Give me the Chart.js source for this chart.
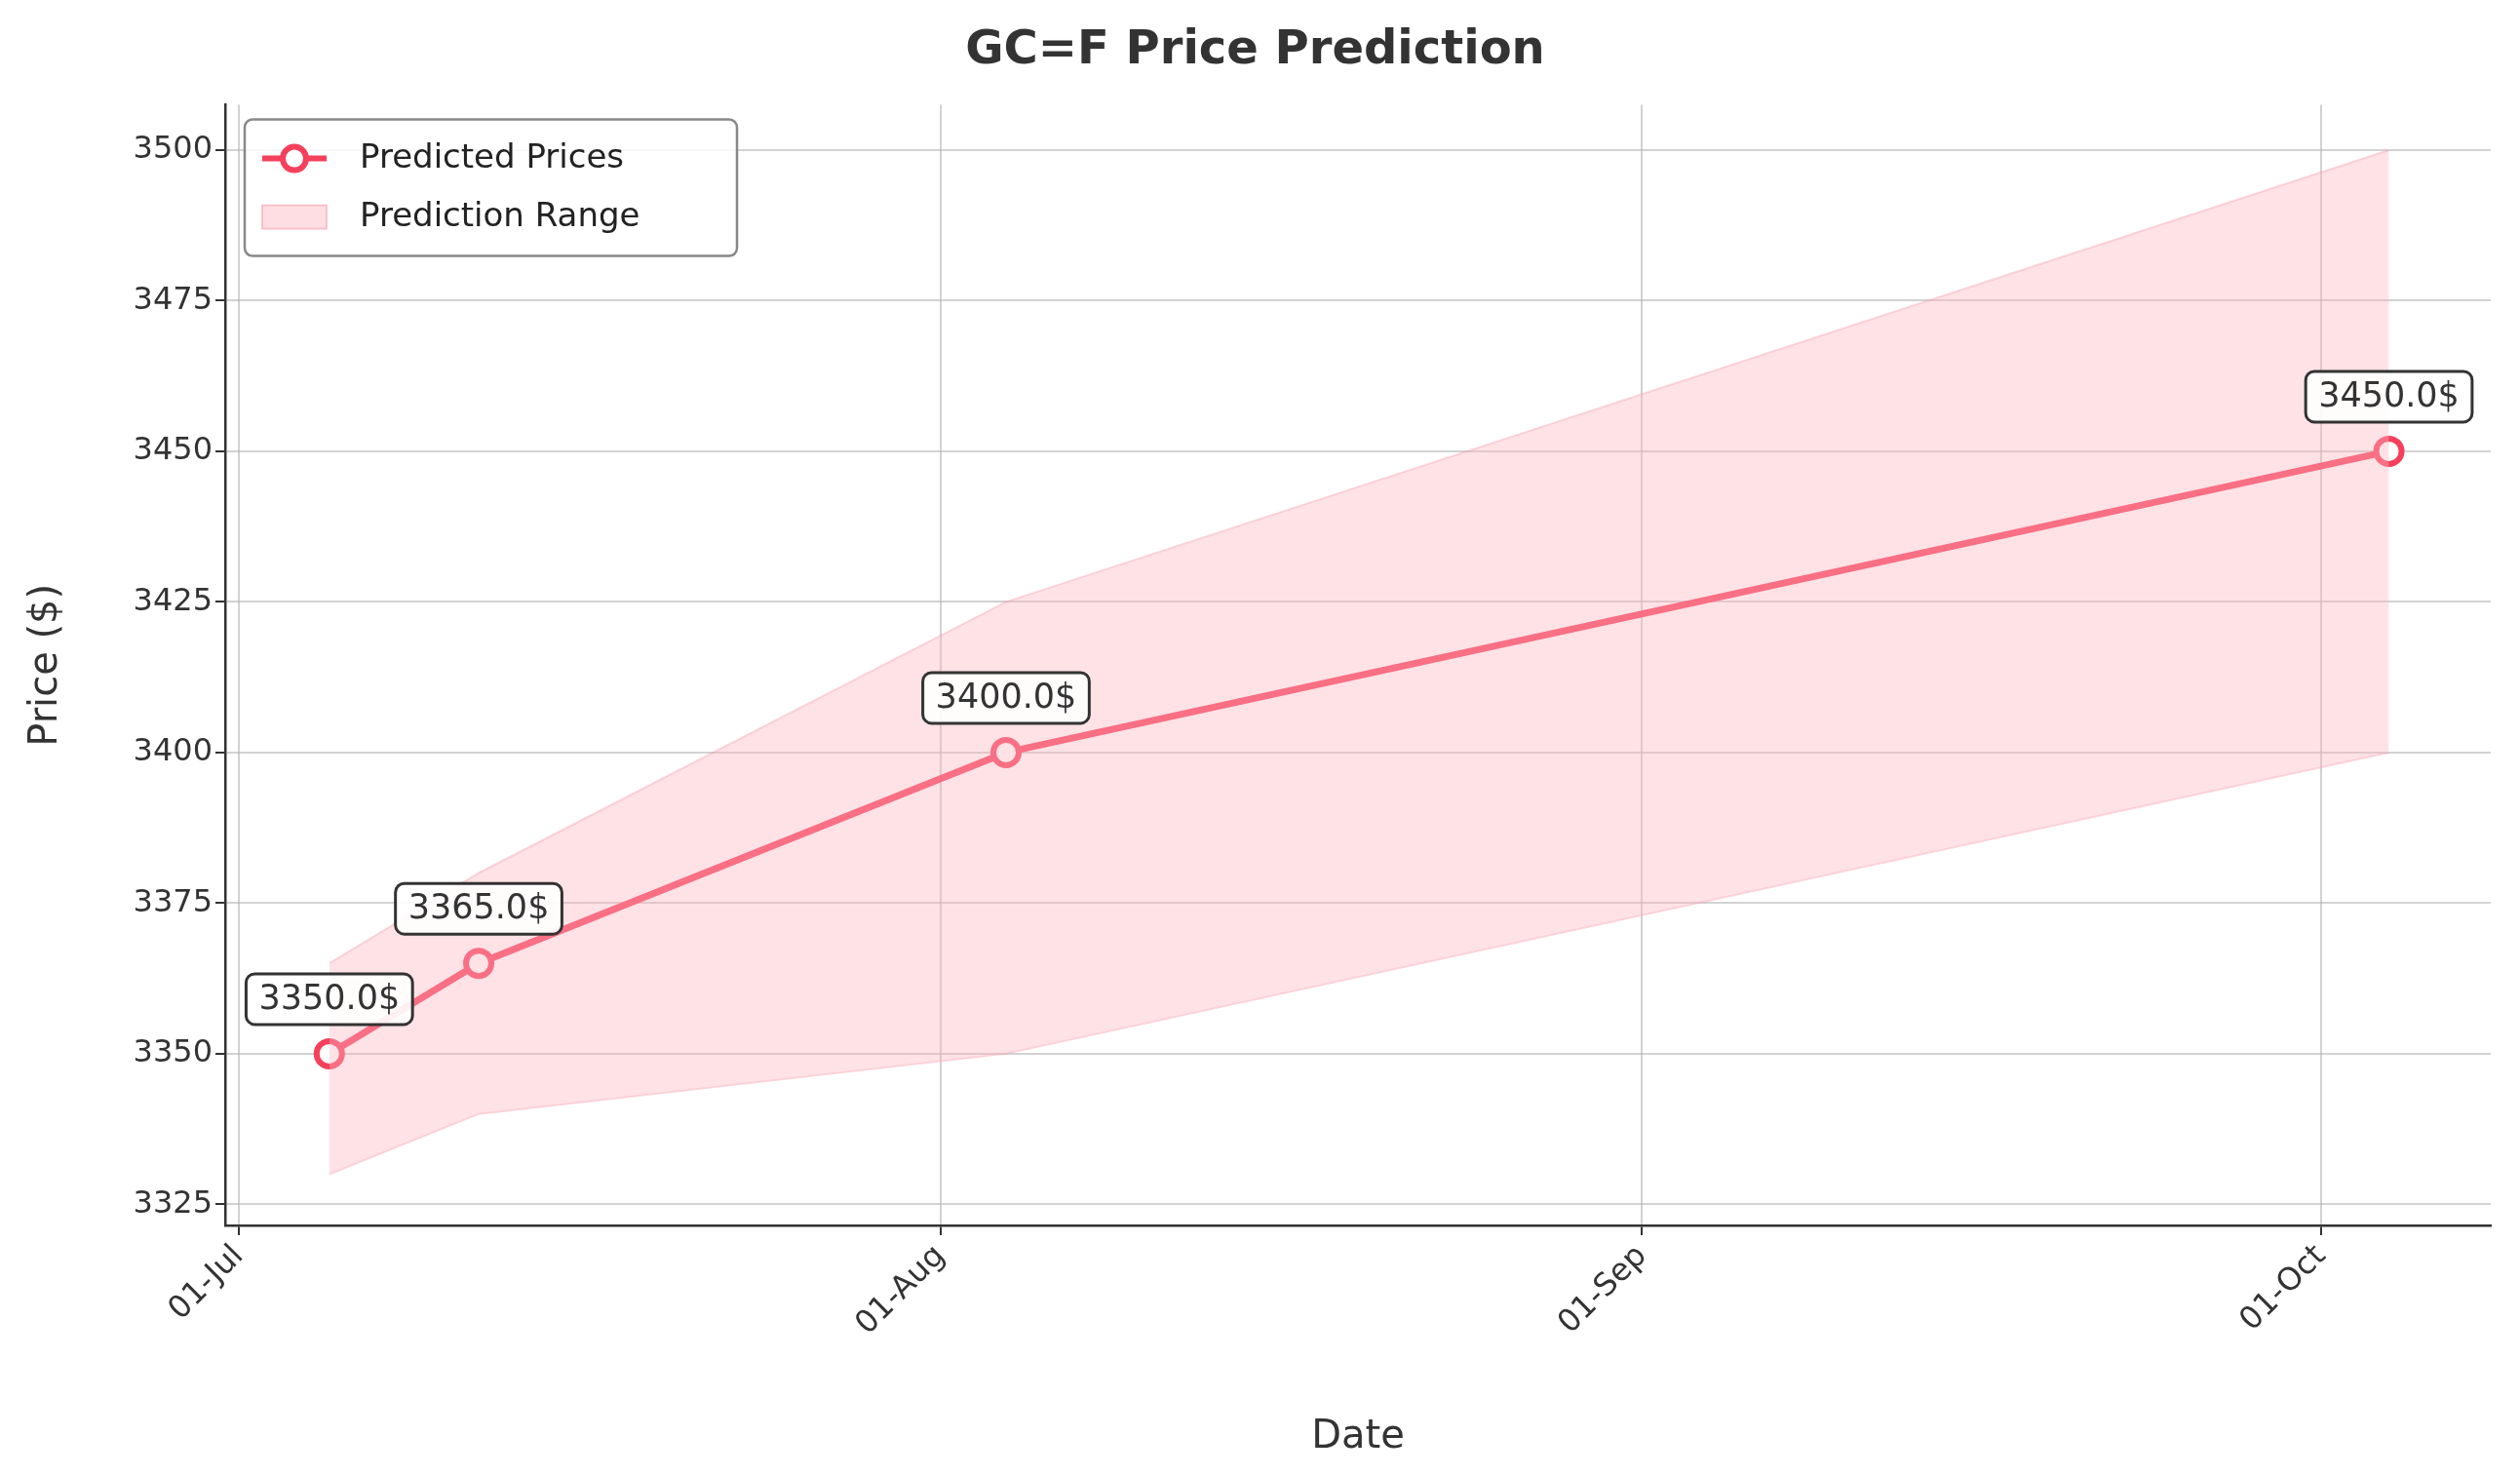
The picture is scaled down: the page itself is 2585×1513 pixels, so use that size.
<!DOCTYPE html>
<html>
<head>
<meta charset="utf-8">
<script src="https://cdn.jsdelivr.net/npm/chart.js@4.4.0/dist/chart.umd.min.js"></script>
<style>
  html, body { margin: 0; padding: 0; background: #fff; }
  #wrap { width: 2585px; height: 1513px; }
</style>
</head>
<body>
<div id="wrap"><canvas id="grafico" width="2585" height="1513"></canvas></div>
<script>
// days counted from 01-Jul
const dias = [4, 10.6, 33.9, 95];
const precos = [3350, 3365, 3400, 3450];
const limiteInferior = [3330, 3340, 3350, 3400];
const limiteSuperior = [3365, 3380, 3425, 3500];
const rotulos = ['3350.0$', '3365.0$', '3400.0$', '3450.0$'];
const ticksData = [0, 31, 62, 92];
const nomesData = ['01-Jul', '01-Aug', '01-Sep', '01-Oct'];
const ticksPreco = [3325, 3350, 3375, 3400, 3425, 3450, 3475, 3500];

const cor = '#f5405c';
const fonte = 'DejaVu Sans';

function pontos(vals) {
    return dias.map((d, i) => ({ x: d, y: vals[i] }));
}

const rotulosPlugin = {
    id: 'rotulos',
    afterDatasetsDraw(chart) {
        const { ctx, scales } = chart;
        ctx.save();
        ctx.font = '35px ' + fonte;
        ctx.textAlign = 'center';
        ctx.textBaseline = 'middle';
        dias.forEach((d, i) => {
            const x = scales.x.getPixelForValue(d);
            const y = scales.y.getPixelForValue(precos[i]) - 56;
            const w = ctx.measureText(rotulos[i]).width + 26;
            const h = 52;
            ctx.beginPath();
            ctx.roundRect(x - w / 2, y - h / 2, w, h, 9);
            ctx.fillStyle = 'rgba(255,255,255,0.9)';
            ctx.fill();
            ctx.lineWidth = 3;
            ctx.strokeStyle = '#333';
            ctx.stroke();
            ctx.fillStyle = '#333';
            ctx.fillText(rotulos[i], x, y + 1);
        });

        // legend box
        const lx = chart.chartArea.left + 20, ly = chart.chartArea.top + 15;
        ctx.beginPath();
        ctx.roundRect(lx, ly, 505, 140, 8);
        ctx.fillStyle = 'rgba(255,255,255,0.85)';
        ctx.fill();
        ctx.lineWidth = 2.5;
        ctx.strokeStyle = '#888';
        ctx.stroke();
        ctx.strokeStyle = cor;
        ctx.lineWidth = 6;
        ctx.beginPath();
        ctx.moveTo(lx + 18, ly + 40);
        ctx.lineTo(lx + 84, ly + 40);
        ctx.stroke();
        ctx.beginPath();
        ctx.arc(lx + 51, ly + 40, 12, 0, Math.PI * 2);
        ctx.fillStyle = '#fff';
        ctx.fill();
        ctx.stroke();
        ctx.fillStyle = 'rgba(255,182,193,0.45)';
        ctx.strokeStyle = 'rgba(240,150,165,0.5)';
        ctx.lineWidth = 2;
        ctx.fillRect(lx + 18, ly + 88, 66, 24);
        ctx.strokeRect(lx + 18, ly + 88, 66, 24);
        ctx.fillStyle = '#222';
        ctx.textAlign = 'left';
        ctx.font = '34px ' + fonte;
        ctx.fillText('Predicted Prices', lx + 118, ly + 41);
        ctx.fillText('Prediction Range', lx + 118, ly + 101);
        ctx.restore();
    }
};

new Chart(document.getElementById('grafico'), {
    type: 'line',
    data: {
        datasets: [
            {
                label: 'Upper',
                data: pontos(limiteSuperior),
                borderColor: 'rgba(240,150,165,0.35)',
                borderWidth: 2,
                pointRadius: 0,
                backgroundColor: 'rgba(255,182,193,0.4)',
                fill: '+1',
                tension: 0
            },
            {
                label: 'Lower',
                data: pontos(limiteInferior),
                borderColor: 'rgba(240,150,165,0.35)',
                borderWidth: 2,
                pointRadius: 0,
                fill: false,
                tension: 0
            },
            {
                label: 'Predicted Prices',
                data: pontos(precos),
                borderColor: cor,
                borderWidth: 7,
                pointRadius: 13,
                pointBorderWidth: 6,
                pointBackgroundColor: '#fff',
                pointBorderColor: cor,
                fill: false,
                tension: 0
            }
        ]
    },
    options: {
        responsive: false,
        animation: false,
        layout: { padding: { left: 20, right: 30, top: 10, bottom: 10 } },
        plugins: {
            legend: { display: false },
            tooltip: { enabled: false },
            title: {
                display: true,
                text: 'GC=F Price Prediction',
                color: '#333',
                font: { family: fonte, size: 48, weight: 'bold' },
                padding: { top: 14, bottom: 26 }
            }
        },
        scales: {
            x: {
                type: 'linear',
                min: -0.6,
                max: 99.5,
                afterBuildTicks(axis) {
                    axis.ticks = ticksData.map(v => ({ value: v }));
                },
                afterFit(axis) { axis.height = 246; },
                ticks: {
                    color: '#333',
                    font: { family: fonte, size: 32 },
                    maxRotation: 45,
                    minRotation: 45,
                    callback: v => nomesData[ticksData.indexOf(v)]
                },
                grid: {
                    color: 'rgba(180,180,180,0.6)',
                    lineWidth: 2,
                    tickLength: 10,
                    tickColor: '#333',
                    tickWidth: 2
                },
                border: { color: '#333', width: 2.5 },
                title: {
                    display: true,
                    text: 'Date',
                    color: '#333',
                    font: { family: fonte, size: 40 }
                }
            },
            y: {
                min: 3321.5,
                max: 3507.5,
                afterBuildTicks(axis) {
                    axis.ticks = ticksPreco.map(v => ({ value: v }));
                },
                afterFit(axis) { axis.width = 211; },
                ticks: {
                    color: '#333',
                    font: { family: fonte, size: 32 },
                    callback: v => String(v)
                },
                grid: {
                    color: 'rgba(180,180,180,0.6)',
                    lineWidth: 2,
                    tickLength: 10,
                    tickColor: '#333',
                    tickWidth: 2
                },
                border: { color: '#333', width: 2.5 },
                title: {
                    display: true,
                    text: 'Price ($)',
                    color: '#333',
                    font: { family: fonte, size: 40 }
                }
            }
        }
    },
    plugins: [rotulosPlugin]
});
</script>
</body>
</html>
